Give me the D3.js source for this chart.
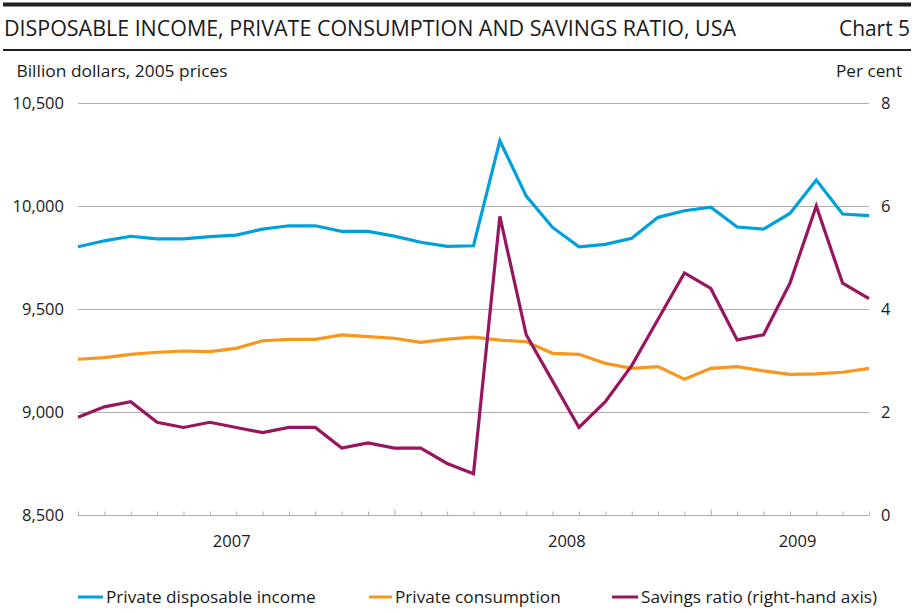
<!DOCTYPE html>
<html>
<head>
<meta charset="utf-8">
<script src="https://cdn.jsdelivr.net/npm/d3@7"></script>
<style>
  html, body { margin: 0; padding: 0; background: #fff; }
  svg text { font-family: "Open Sans", "Noto Sans", sans-serif; fill: #1a1a1a; }
</style>
</head>
<body>
<svg id="chart" width="916" height="613"></svg>
<script>
// ---- data ----
const months = ["Jan 2007","Feb 2007","Mar 2007","Apr 2007","May 2007","Jun 2007","Jul 2007","Aug 2007","Sep 2007","Oct 2007","Nov 2007","Dec 2007",
  "Jan 2008","Feb 2008","Mar 2008","Apr 2008","May 2008","Jun 2008","Jul 2008","Aug 2008","Sep 2008","Oct 2008","Nov 2008","Dec 2008",
  "Jan 2009","Feb 2009","Mar 2009","Apr 2009","May 2009","Jun 2009","Jul 2009"];
const disposableIncome = [9802,9831,9853,9840,9840,9851,9859,9888,9904,9904,9877,9877,
  9854,9824,9804,9807,10317,10048,9896,9802,9814,9843,9945,9977,
  9994,9898,9888,9964,10126,9961,9953];
const privateConsumption = [9256,9264,9280,9290,9296,9293,9309,9346,9353,9353,9374,9366,
  9358,9338,9354,9363,9349,9341,9285,9280,9236,9212,9220,9159,
  9212,9220,9200,9183,9185,9193,9212];
const savingsRatio = [1.9,2.1,2.2,1.8,1.7,1.8,1.7,1.6,1.7,1.7,1.3,1.4,
  1.3,1.3,1.0,0.8,5.8,3.5,2.6,1.7,2.2,2.9,3.8,4.7,
  4.4,3.4,3.5,4.5,6.0,4.5,4.2];
const leftTicks = [8500, 9000, 9500, 10000, 10500];
const rightTicks = [0, 2, 4, 6, 8];
const yearLabels = ["2007", "2008", "2009"];
const seriesNames = ["Private disposable income", "Private consumption", "Savings ratio (right-hand axis)"];
const title = "DISPOSABLE INCOME, PRIVATE CONSUMPTION AND SAVINGS RATIO, USA";
const chartNo = "Chart 5";
const leftUnit = "Billion dollars, 2005 prices";
const rightUnit = "Per cent";

// ---- layout ----
const colors = ["#00a0dc", "#f7971d", "#98155f"];
const svg = d3.select("#chart");
const x0 = 78, x1 = 869, yTop = 103, yBot = 515;

const x = d3.scaleLinear().domain([0, months.length - 1]).range([x0, x1]);
const yL = d3.scaleLinear().domain([8500, 10500]).range([yBot, yTop]);
const yR = d3.scaleLinear().domain([0, 8]).range([yBot, yTop]);

// header
svg.append("rect").attr("x", 3).attr("y", 2.5).attr("width", 908).attr("height", 4).attr("fill", "#231f20");
svg.append("rect").attr("x", 3).attr("y", 49).attr("width", 908).attr("height", 2).attr("fill", "#231f20");
svg.append("text").attr("x", 4).attr("y", 36).attr("font-size", 21)
  .attr("textLength", 732).attr("lengthAdjust", "spacingAndGlyphs").text(title);
svg.append("text").attr("x", 910).attr("y", 36).attr("font-size", 21).attr("text-anchor", "end")
  .attr("textLength", 71).attr("lengthAdjust", "spacingAndGlyphs").text(chartNo);
svg.append("text").attr("x", 16.5).attr("y", 77).attr("font-size", 16.5)
  .attr("textLength", 211).attr("lengthAdjust", "spacingAndGlyphs").text(leftUnit);
svg.append("text").attr("x", 902).attr("y", 77).attr("font-size", 16.5).attr("text-anchor", "end")
  .attr("textLength", 66).attr("lengthAdjust", "spacingAndGlyphs").text(rightUnit);

// gridlines
svg.append("g").selectAll("line").data(leftTicks.slice(1)).join("line")
  .attr("x1", x0).attr("x2", x1).attr("y1", d => yL(d) + 0.5).attr("y2", d => yL(d) + 0.5)
  .attr("stroke", "#adadad").attr("stroke-width", 1);

// left axis labels
const gLeft = svg.append("g").attr("transform", `translate(${x0 - 14},0)`)
  .call(d3.axisLeft(yL).tickValues(leftTicks).tickSize(0).tickPadding(0).tickFormat(d3.format(",")));
gLeft.select(".domain").remove();
gLeft.selectAll("text").attr("font-size", 16.5).attr("fill", "#1a1a1a").style("font-family", "'Open Sans', sans-serif");

// right axis labels
const gRight = svg.append("g").attr("transform", `translate(${x1 + 12},0)`)
  .call(d3.axisRight(yR).tickValues(rightTicks).tickSize(0).tickPadding(0).tickFormat(d3.format("d")));
gRight.select(".domain").remove();
gRight.selectAll("text").attr("font-size", 16.5).attr("fill", "#1a1a1a").style("font-family", "'Open Sans', sans-serif");

// x axis baseline with month ticks
const gX = svg.append("g").attr("transform", `translate(0,${yBot + 0.5})`)
  .call(d3.axisTop(x).tickValues(d3.range(months.length)).tickSize(4).tickFormat(""));
gX.select(".domain").attr("d", `M${x0},0H${x1}`).attr("stroke", "#adadad");
gX.selectAll(".tick line").attr("stroke", "#adadad")
  .attr("y2", (d) => months[d].startsWith("Jan") && d > 0 ? -6 : -4);

// year labels
const yearPos = [5.83, 18.54, 27.29];
svg.append("g").selectAll("text").data(yearLabels).join("text")
  .attr("x", (d, i) => x(yearPos[i])).attr("y", 547).attr("text-anchor", "middle")
  .attr("font-size", 16.5).text(d => d);

// lines
const lineL = d3.line().x((d, i) => x(i)).y(d => yL(d));
const lineR = d3.line().x((d, i) => x(i)).y(d => yR(d));
const series = [
  { vals: disposableIncome, gen: lineL },
  { vals: privateConsumption, gen: lineL },
  { vals: savingsRatio, gen: lineR }
];
svg.append("g").selectAll("path").data(series).join("path")
  .attr("d", d => d.gen(d.vals)).attr("fill", "none")
  .attr("stroke", (d, i) => colors[i]).attr("stroke-width", 3.2)
  .attr("stroke-linejoin", "miter").attr("stroke-miterlimit", 4);

// legend
const legendX = [78, 369, 612];
const legendTextX = [106, 395, 641];
const lg = svg.append("g");
lg.selectAll("line").data(seriesNames).join("line")
  .attr("x1", (d, i) => legendX[i]).attr("x2", (d, i) => legendTextX[i] - 3)
  .attr("y1", 597).attr("y2", 597).attr("stroke", (d, i) => colors[i]).attr("stroke-width", 3);
lg.selectAll("text").data(seriesNames).join("text")
  .attr("x", (d, i) => legendTextX[i]).attr("y", 603).attr("font-size", 17.2).text(d => d);
</script>
</body>
</html>
